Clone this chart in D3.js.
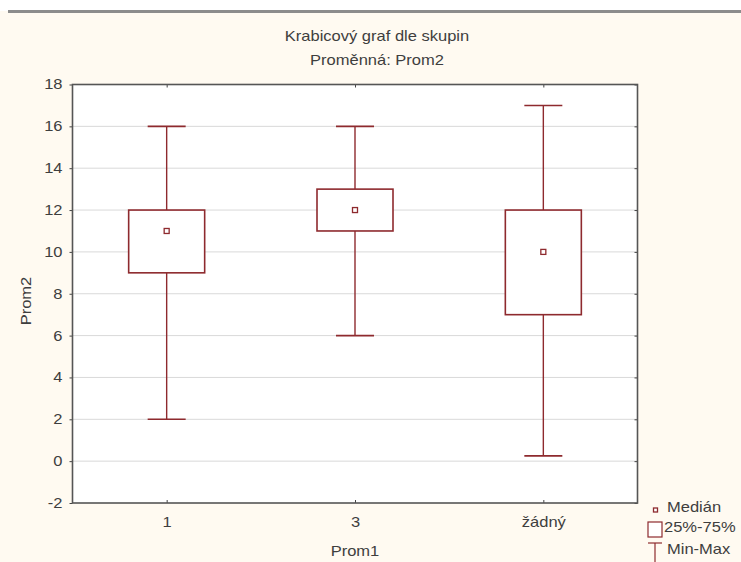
<!DOCTYPE html>
<html>
<head>
<meta charset="utf-8">
<script src="https://cdn.jsdelivr.net/npm/d3@7"></script>
<style>
  html, body { margin: 0; padding: 0; background: #ffffff; }
  svg { display: block; }
  text { font-family: "Liberation Sans", Arial, sans-serif; fill: #3e3e3e; }
</style>
</head>
<body>
<svg id="chart" width="741" height="562"></svg>
<script>
// Box plot statistics per group of Prom1
const categories = ["1", "3", "žádný"];
const minValues    = [2, 6, 0.25];
const q1Values     = [9, 11, 7];
const medianValues = [11, 12, 10];
const q3Values     = [12, 13, 12];
const maxValues    = [16, 16, 17];
const yTicks = [-2, 0, 2, 4, 6, 8, 10, 12, 14, 16, 18];

const titleText = "Krabicový graf dle skupin";
const subtitleText = "Proměnná: Prom2";
const xLabel = "Prom1";
const yLabel = "Prom2";
const legendLabels = ["Medián", "25%-75%", "Min-Max"];

const W = 741, H = 562;
const plot = { left: 72.5, right: 637.5, top: 84.5, bottom: 503 };
const boxColor = "#8e2a2e";
const fontSize = 14;
const stretch = 1.18;   // wide-set lettering

const svg = d3.select("#chart");

// page background and top rule
svg.append("rect").attr("x", 0).attr("y", 0).attr("width", W).attr("height", H).attr("fill", "#fffaf1");
svg.append("rect").attr("x", 0).attr("y", 0).attr("width", W).attr("height", 11).attr("fill", "#ffffff");
svg.append("rect").attr("x", 8).attr("y", 10).attr("width", W - 8).attr("height", 3).attr("fill", "#8c8c8c");

const x = d3.scalePoint().domain(categories).range([plot.left, plot.right]).padding(0.5);
const y = d3.scaleLinear().domain([-2, 18]).range([plot.bottom, plot.top]);

// plot area
svg.append("rect")
  .attr("x", plot.left).attr("y", plot.top)
  .attr("width", plot.right - plot.left).attr("height", plot.bottom - plot.top)
  .attr("fill", "#ffffff");

// horizontal grid lines
svg.append("g").selectAll("line")
  .data(yTicks.filter(t => t > -2 && t < 18))
  .join("line")
  .attr("x1", plot.left).attr("x2", plot.right)
  .attr("y1", d => y(d)).attr("y2", d => y(d))
  .attr("stroke", "#d9d9d9").attr("stroke-width", 1);

// axes
const yAxisL = d3.axisLeft(y).tickValues(yTicks).tickSize(3).tickSizeOuter(0).tickFormat(d => String(d));
const gL = svg.append("g").attr("transform", `translate(${plot.left},0)`).call(yAxisL);
gL.selectAll("text").attr("font-size", fontSize).attr("x", -10);

const yAxisR = d3.axisLeft(y).tickValues(yTicks).tickSize(3).tickSizeOuter(0).tickFormat("");
svg.append("g").attr("transform", `translate(${plot.right},0)`).call(yAxisR);

const xAxisB = d3.axisBottom(x).tickSize(-3).tickSizeOuter(0);
const gB = svg.append("g").attr("transform", `translate(0,${plot.bottom})`).call(xAxisB);
gB.selectAll("text").attr("font-size", fontSize).attr("y", 24).attr("dy", 0);

const xAxisT = d3.axisTop(x).tickSize(-3).tickSizeOuter(0).tickFormat("");
svg.append("g").attr("transform", `translate(0,${plot.top})`).call(xAxisT);

svg.selectAll(".domain").remove();
svg.selectAll(".tick line").attr("stroke", "#444");
svg.selectAll(".tick text").attr("fill", null);

// frame
svg.append("rect")
  .attr("x", plot.left).attr("y", plot.top)
  .attr("width", plot.right - plot.left).attr("height", plot.bottom - plot.top)
  .attr("fill", "none").attr("stroke", "#555").attr("stroke-width", 1.6);

// boxes
const boxW = 76, capW = 38, medS = 5;
const groups = svg.append("g").selectAll("g")
  .data(categories.map((c, i) => ({
    c, min: minValues[i], q1: q1Values[i], med: medianValues[i], q3: q3Values[i], max: maxValues[i]
  })))
  .join("g");

groups.append("line")
  .attr("x1", d => x(d.c)).attr("x2", d => x(d.c))
  .attr("y1", d => y(d.max)).attr("y2", d => y(d.q3))
  .attr("stroke", boxColor).attr("stroke-width", 1.4);
groups.append("line")
  .attr("x1", d => x(d.c)).attr("x2", d => x(d.c))
  .attr("y1", d => y(d.q1)).attr("y2", d => y(d.min))
  .attr("stroke", boxColor).attr("stroke-width", 1.4);
groups.append("line")
  .attr("x1", d => x(d.c) - capW / 2).attr("x2", d => x(d.c) + capW / 2)
  .attr("y1", d => y(d.max)).attr("y2", d => y(d.max))
  .attr("stroke", boxColor).attr("stroke-width", 1.6);
groups.append("line")
  .attr("x1", d => x(d.c) - capW / 2).attr("x2", d => x(d.c) + capW / 2)
  .attr("y1", d => y(d.min)).attr("y2", d => y(d.min))
  .attr("stroke", boxColor).attr("stroke-width", 1.6);
groups.append("rect")
  .attr("x", d => x(d.c) - boxW / 2).attr("width", boxW)
  .attr("y", d => y(d.q3)).attr("height", d => y(d.q1) - y(d.q3))
  .attr("fill", "#ffffff").attr("stroke", boxColor).attr("stroke-width", 1.6);
groups.append("rect")
  .attr("x", d => x(d.c) - medS / 2).attr("width", medS)
  .attr("y", d => y(d.med) - medS / 2).attr("height", medS)
  .attr("fill", "#ffffff").attr("stroke", boxColor).attr("stroke-width", 1.3);

// titles
svg.append("text").attr("x", 377).attr("y", 41).attr("text-anchor", "middle")
  .attr("font-size", fontSize).text(titleText);
svg.append("text").attr("x", 377).attr("y", 65).attr("text-anchor", "middle")
  .attr("font-size", fontSize).text(subtitleText);
svg.append("text").attr("x", (plot.left + plot.right) / 2).attr("y", 556).attr("text-anchor", "middle")
  .attr("font-size", fontSize).text(xLabel);
svg.append("text").attr("class", "ylab")
  .attr("transform", `translate(31,301) rotate(-90)`)
  .attr("text-anchor", "middle").attr("font-size", fontSize).text(yLabel);

// legend
const lg = svg.append("g");
lg.append("rect").attr("x", 653.5).attr("y", 508).attr("width", 4).attr("height", 4)
  .attr("fill", "#fff").attr("stroke", boxColor).attr("stroke-width", 1.3);
lg.append("text").attr("x", 667).attr("y", 512).attr("font-size", fontSize).text(legendLabels[0]);
lg.append("rect").attr("x", 648).attr("y", 522).attr("width", 14).attr("height", 15)
  .attr("fill", "#fff").attr("stroke", boxColor).attr("stroke-width", 1.2);
lg.append("text").attr("x", 664).attr("y", 532).attr("font-size", fontSize).text(legendLabels[1]);
lg.append("line").attr("x1", 648).attr("x2", 662).attr("y1", 543).attr("y2", 543).attr("stroke", boxColor).attr("stroke-width", 1.2);
lg.append("line").attr("x1", 655).attr("x2", 655).attr("y1", 543).attr("y2", 562).attr("stroke", boxColor).attr("stroke-width", 1.2);
lg.append("text").attr("x", 667).attr("y", 554).attr("font-size", fontSize).text(legendLabels[2]);

// widen all lettering horizontally about each anchor point
svg.selectAll("text").each(function () {
  const t = d3.select(this);
  const tr = t.attr("transform");
  if (tr) {
    t.attr("transform", `${tr} scale(${stretch},1)`);
  } else {
    const ax = +t.attr("x") || 0;
    t.attr("transform", `translate(${ax},0) scale(${stretch},1) translate(${-ax},0)`);
  }
});
</script>
</body>
</html>
